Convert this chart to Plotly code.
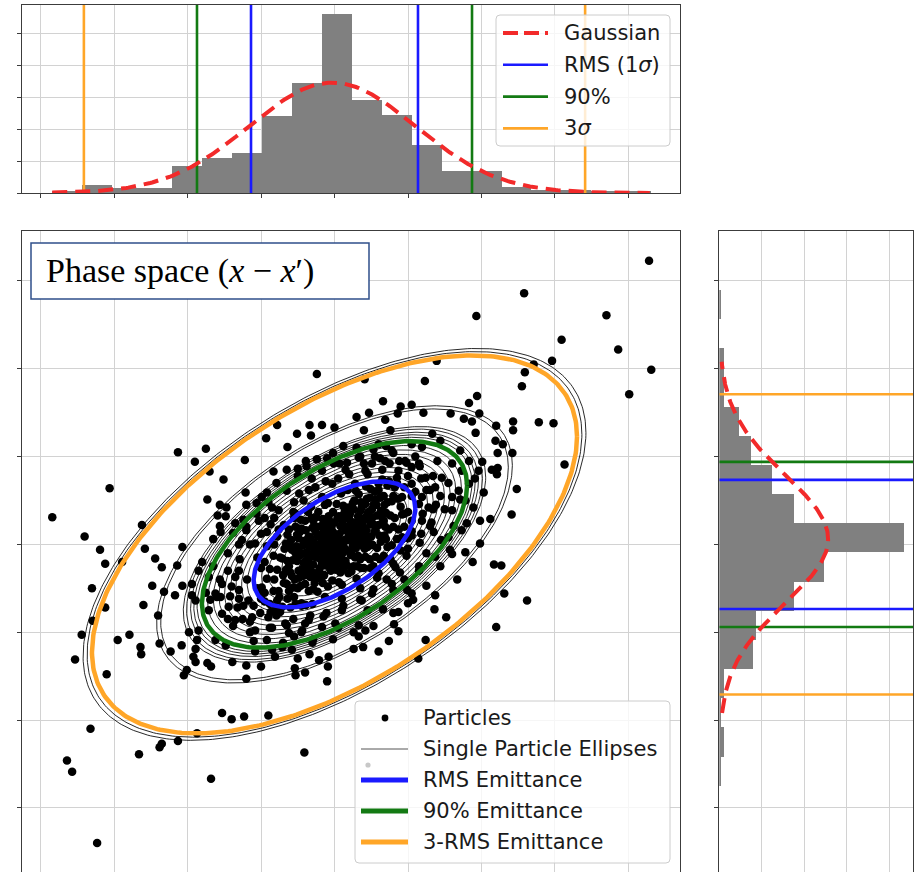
import numpy as np
import plotly.graph_objects as go

W, H = 922, 872

# ---------------- data ----------------
# top histogram (x projection)
top_bin_start = -3.84
top_bin_width = 0.4075
top_counts = [1, 5, 3, 3, 17, 22, 25, 48, 69, 112, 58, 49, 30, 14, 14, 4, 2, 2, 1, 1]

# right histogram (x' projection), from lowest bin to highest
right_bin_start = -3.412
right_bin_width = 0.332
right_counts = [0, 0, 1, 3, 1, 3, 20, 22, 44, 62, 109, 44, 31, 19, 12, 3, 3, 0, 1, 0]

# gaussian fits
top_gauss_amp, top_gauss_mean, top_gauss_sigma = 69, -0.03, 1.13
top_gauss_lo, top_gauss_hi = -3.84, 4.29
right_gauss_amp, right_gauss_mean, right_gauss_sigma = 64, 0.06, 0.73
right_gauss_lo, right_gauss_hi = -1.92, 2.08

# marker lines in the projections
top_rms_x, top_p90_x, top_3sig_x = 1.136, 1.871, 3.41
right_rms_y, right_p90_y, right_3sig_y = 0.735, 0.94, 1.71

# beam ellipse (rms) parameters
sigma_x = 1.10
sigma_xp = 0.7175
corr = 0.57
k_rms, k_90, k_3rms = 1.0, 1.64, 3.0
single_k = [0.45, 0.65, 0.82, 0.90, 1.08, 1.15, 1.22, 1.29, 1.36, 1.43, 1.50, 1.57,
            1.70, 1.74, 1.78, 1.83, 1.87, 2.15, 2.20, 3.06, 3.11]

# particles (x, x')
particles_upper_left = [
    (-0.24, 1.94), (-0.78, 1.36), (-0.34, 1.36), (-0.17, 1.36), (0.00, 1.33), (-0.93, 1.21),
    (-0.51, 1.26), (-0.32, 1.24), (-0.64, 1.11), (-2.13, 1.05), (-1.75, 1.09), (-1.90, 0.94),
    (-1.70, 0.83), (-1.22, 0.96), (-0.83, 0.83), (-0.39, 0.95), (-0.50, 0.86), (-1.51, 0.74),
    (-1.21, 0.59), (-3.06, 0.64), (-1.73, 0.51), (-1.56, 0.45), (-1.47, 0.42), (-1.59, 0.33),
    (-1.48, 0.32), (-3.84, 0.31), (-3.40, 0.09), (-2.62, 0.22), (-3.19, -0.06), (-2.58, -0.05),
    (-2.07, -0.03), (-1.55, 0.14), (-1.20, 0.45), (-1.20, 0.16), (-1.06, 0.35), (-1.03, 0.27),
    (-0.92, 0.14), (-0.65, 0.61), (-0.48, 0.58), (-0.31, 0.75), (-0.17, 0.84), (-0.01, 0.92),
    (0.07, 0.92), (0.12, 1.12), (-0.85, 0.42), (-0.76, 0.39), (-0.42, 0.50), (-0.53, 0.35),
    (-1.35, 0.24), (-1.26, 0.05), (-1.08, 0.01), (-0.03, 0.69), (-0.26, 0.65), (-0.17, 0.54),
    (-0.99, 0.54),
]
particles_upper_right = [
    (4.28, 3.23), (2.58, 2.86), (1.93, 2.60), (3.70, 2.61), (3.09, 2.33), (3.86, 2.22),
    (4.31, 1.99), (4.01, 1.71), (2.96, 2.09), (2.71, 2.05), (2.59, 1.96), (2.55, 1.80),
    (1.39, 2.09), (0.41, 1.88), (1.23, 1.86), (1.94, 1.69), (1.83, 1.61), (0.66, 1.63),
    (1.05, 1.59), (0.90, 1.57), (1.21, 1.50), (1.58, 1.49), (1.76, 1.43), (1.87, 1.40),
    (1.97, 1.49), (1.92, 1.27), (2.43, 1.40), (2.43, 1.30), (2.78, 1.39), (2.98, 1.38),
    (2.20, 1.35), (2.19, 1.18), (2.29, 1.14), (2.22, 1.04), (2.42, 1.04), (3.13, 0.91),
    (2.22, 0.87), (2.14, 0.85), (2.21, 0.80), (2.48, 0.63), (2.03, 0.59), (2.41, 0.34),
    (2.12, 0.29), (1.98, 0.27), (1.98, 0.01), (1.80, 0.24), (1.83, 0.95), (2.01, 0.94),
    (1.96, 0.84), (1.91, 0.75), (0.30, 1.45), (0.47, 1.50), (0.69, 1.42), (0.86, 1.49),
    (0.76, 1.30), (0.40, 1.30), (1.33, 1.26), (1.44, 1.18), (1.19, 1.11), (1.05, 1.14),
    (1.71, 1.07), (1.60, 0.92), (1.73, 0.84), (1.83, 0.69), (1.69, 0.61), (1.60, 0.54),
    (1.78, 0.50), (1.89, 0.42), (1.60, 0.39), (1.73, 0.16), (1.55, 0.08), (1.35, 0.14),
    (1.19, 0.27), (1.28, 0.42), (1.37, 0.65), (1.19, 0.54), (1.46, 0.76), (1.15, 0.92),
    (0.96, 0.95), (0.78, 1.07), (0.60, 1.14), (0.33, 0.99), (0.51, 0.92), (0.69, 0.95),
    (0.87, 0.84), (0.42, 0.84), (0.28, 0.69), (0.60, 0.69), (1.05, 0.69), (1.24, 0.76),
    (0.92, 0.54), (1.15, 0.46), (1.05, 0.27), (0.92, 0.08),
]
particles_lower_left = [
    (-3.12, -0.22), (-2.89, -0.20), (-2.44, -0.16), (-2.35, -0.26), (-2.14, -0.24), (-3.30, -0.50),
    (-2.48, -0.47), (-2.32, -0.54), (-2.17, -0.58), (-2.07, -0.47), (-3.12, -0.72), (-2.60, -0.69),
    (-3.29, -0.87), (-2.40, -0.81), (-3.44, -1.03), (-2.95, -1.09), (-2.79, -1.03), (-2.64, -1.17),
    (-2.63, -1.25), (-3.53, -1.31), (-3.10, -1.48), (-2.38, -1.13), (-2.23, -1.22), (-2.08, -1.15),
    (-2.05, -1.49), (-2.01, -1.43), (-1.89, -1.34), (-1.92, -1.28), (-1.73, -1.35), (-1.68, -1.39),
    (-1.89, -1.19), (-1.98, -1.00), (-1.85, -0.98), (-1.87, -1.09), (-1.62, -1.09), (-1.48, -1.15),
    (-1.39, -1.34), (-1.20, -1.38), (-1.20, -1.53), (-1.00, -1.39), (-1.08, -1.22), (-0.85, -1.20),
    (-0.81, -1.28), (-1.53, -1.92), (-1.40, -1.99), (-1.23, -1.96), (-0.90, -1.95), (-1.87, -2.15),
    (-2.13, -2.24), (-2.35, -2.27), (-2.38, -2.31), (-2.66, -2.39), (-3.32, -2.10), (-3.64, -2.46),
    (-3.57, -2.59), (-1.68, -2.67), (-0.41, -2.37), (-3.23, -3.40), (-0.10, -1.56), (-0.40, -1.46),
    (-0.53, -1.49), (-0.54, -1.41), (-0.50, -1.30), (-0.21, -1.32), (-0.08, -1.28), (-0.09, -1.39),
    (-0.34, -1.25), (-0.58, -1.20), (-0.71, -1.17), (-1.08, -0.98), (-0.92, -1.09), (-1.35, -0.86),
    (-1.53, -0.79), (-1.71, -0.75), (-1.89, -0.64), (-1.94, -0.58), (-1.94, -0.45), (-1.85, -0.30),
    (-1.71, -0.37), (-1.53, -0.45), (-1.35, -0.37), (-1.17, -0.64), (-0.99, -0.49), (-0.81, -0.75),
    (-0.67, -0.90), (-0.44, -0.98), (-0.35, -0.86), (-0.17, -0.94), (0.01, -0.90), (0.10, -0.75),
    (-0.62, -1.01), (-0.90, -0.83), (-1.44, -0.71), (-1.62, -0.56), (-1.30, -0.52), (-1.12, -0.83),
    (-1.45, -0.30), (-1.30, -0.62), (-1.10, -0.70), (-0.95, -0.65), (-0.75, -0.60), (-0.60, -0.72),
    (-0.45, -0.70), (-0.30, -0.68), (-0.85, -0.95), (-0.55, -1.05), (-1.25, -0.85), (-1.55, -0.60),
    (-1.75, -0.55), (-1.80, -0.20),
]
particles_lower_right = [
    (2.17, -0.23), (2.27, -0.24), (2.31, -0.56), (2.62, -0.64), (2.20, -0.94), (1.88, -0.20),
    (1.67, -0.40), (1.37, -0.58), (1.52, -0.83), (1.36, -0.74), (1.24, -1.09), (1.14, -1.30),
    (1.00, -0.67), (0.87, -0.77), (0.87, -0.99), (0.81, -0.91), (0.74, -1.10), (0.66, -0.74),
    (0.60, -1.22), (0.39, -1.17), (0.33, -1.05), (0.42, -0.98), (0.33, -0.92), (0.26, -1.19),
    (1.05, -0.56), (0.99, -0.52), (0.78, -0.45), (0.51, -0.56), (0.37, -0.64), (0.60, -0.33),
    (0.83, -0.26), (1.15, -0.30), (1.37, -0.14), (1.60, -0.11), (1.78, -0.09),
]
particles_ring = [
    (-1.56, 0.21), (-1.65, 0.06), (-1.38, 0.13), (-1.24, 0.28), (-1.06, 0.47), (-0.92, 0.59),
    (-0.79, 0.70), (-0.65, 0.85), (-0.38, 0.89), (-0.24, 0.97), (-0.02, 1.04), (0.17, 0.93),
    (0.35, 1.00), (0.53, 1.08), (0.80, 1.04), (0.98, 0.93), (1.16, 0.89), (1.34, 0.78),
    (1.44, 0.55), (1.34, 0.40), (1.30, 0.21), (1.16, 0.02), (0.98, -0.13), (0.89, -0.32),
    (0.71, -0.40), (0.53, -0.51), (0.35, -0.63), (0.12, -0.70), (-0.11, -0.78), (-0.33, -0.81),
    (-0.56, -0.85), (-0.79, -0.81), (-1.01, -0.78), (-1.24, -0.70), (-1.42, -0.59), (-1.56, -0.40),
    (-1.65, -0.25), (-1.29, -0.17), (-1.19, -0.40), (-1.01, -0.55), (1.71, 0.51), (1.62, 0.21),
    (1.57, -0.06), (1.44, -0.25), (1.25, -0.47), (1.07, -0.63), (0.80, -0.78), (0.53, -0.93),
    (0.26, -1.00), (-0.02, -1.08), (-0.29, -1.08), (-1.15, -1.00), (-1.38, -0.93), (-1.69, -0.63),
    (0.45, 0.80), (0.65, 0.85), (0.85, 0.70), (1.00, 0.78), (1.10, 0.60), (1.25, 0.62),
    (1.20, 0.35), (1.05, 0.10), (0.95, 0.35), (0.75, 0.92), (0.20, 0.80), (0.05, 0.75),
    (1.38, 0.45), (1.30, 0.62), (1.18, 0.75), (1.05, 0.88), (0.88, 0.95), (0.62, 0.98),
    (0.40, 0.92), (0.15, 0.85), (-0.12, 0.72), (-0.35, 0.62), (-0.55, 0.48), (-0.82, 0.30),
    (-1.00, 0.12), (-1.15, 0.00), (-1.30, -0.30), (-1.40, -0.48), (-1.32, -0.72), (-1.15, -0.88),
    (-0.88, -0.95), (-0.65, -0.92), (-0.40, -0.90), (-0.15, -0.82), (0.10, -0.62), (0.35, -0.50),
    (0.58, -0.38), (0.80, -0.22), (1.00, -0.05), (1.18, 0.12), (1.32, 0.25), (1.50, 0.40),
    (1.55, 0.70), (1.40, 0.95), (1.10, 1.00), (0.70, 1.12), (0.30, 1.10), (-0.10, 0.98),
    (-0.50, 0.78), (-0.90, 0.48), (-1.20, 0.20), (-1.45, -0.10), (-1.60, -0.60), (-1.45, -0.85),
    (-1.10, -1.10), (-0.70, -1.12), (-0.30, -1.12), (0.05, -0.95), (0.45, -0.75), (0.80, -0.52),
    (1.15, -0.25), (1.45, 0.05), (1.25, -0.10), (0.95, -0.40), (-0.95, 0.30), (-1.30, 0.00),
    (-0.45, -1.00), (0.55, 1.00),
]
particles_core = [
    (-0.95, -0.55), (-0.95, -0.20), (-0.88, -0.28), (-0.88, -0.68), (-0.82, 0.00), (-0.82, -0.40),
    (-0.76, 0.17), (-0.76, -0.53), (-0.71, -0.16), (-0.71, -0.71), (-0.66, 0.01), (-0.66, -0.29),
    (-0.62, -0.53), (-0.62, 0.17), (-0.58, -0.06), (-0.58, -0.36), (-0.55, 0.30), (-0.55, -0.60),
    (-0.51, -0.19), (-0.51, 0.11), (-0.48, -0.38), (-0.48, -0.08), (-0.45, 0.18), (-0.45, -0.67),
    (-0.42, -0.21), (-0.42, 0.04), (-0.40, 0.27), (-0.40, -0.45), (-0.37, -0.09), (-0.37, -0.26),
    (-0.35, 0.09), (-0.35, -0.53), (-0.32, 0.43), (-0.32, -0.30), (-0.30, -0.11), (-0.30, 0.19),
    (-0.28, -0.35), (-0.28, 0.02), (-0.25, 0.31), (-0.25, -0.15), (-0.23, -0.54), (-0.23, 0.09),
    (-0.20, -0.02), (-0.20, -0.27), (-0.18, 0.21), (-0.18, -0.39), (-0.15, 0.04), (-0.15, -0.14),
    (-0.13, 0.45), (-0.13, -0.60), (-0.10, 0.16), (-0.10, -0.19), (-0.08, -0.05), (-0.08, 0.32),
    (-0.05, 0.10), (-0.05, -0.30), (-0.03, -0.41), (-0.03, 0.01), (0.00, 0.25), (0.00, -0.10),
    (0.00, 0.05), (0.03, -0.19), (0.03, 0.46), (0.05, 0.10), (0.05, -0.03), (0.08, -0.32),
    (0.08, 0.21), (0.10, 0.04), (0.10, -0.46), (0.13, 0.35), (0.13, -0.07), (0.15, 0.16),
    (0.15, -0.19), (0.18, 0.62), (0.18, 0.05), (0.20, -0.08), (0.20, 0.29), (0.23, 0.17),
    (0.23, -0.31), (0.25, 0.47), (0.25, -0.01), (0.28, -0.15), (0.28, 0.25), (0.30, 0.13),
    (0.30, -0.39), (0.33, 0.57), (0.33, 0.07), (0.35, -0.17), (0.35, 0.38), (0.38, 0.24),
    (0.38, -0.01), (0.40, -0.27), (0.40, 0.47), (0.43, 0.16), (0.43, 0.66), (0.45, -0.03),
    (0.45, 0.35), (0.48, 0.53), (0.48, -0.17), (0.50, 0.24), (0.50, 0.09), (0.53, 0.45),
    (0.53, -0.25), (0.55, 0.15), (0.55, 0.60), (0.58, 0.33), (0.58, -0.04), (0.62, -0.17),
    (0.62, 0.53), (0.65, 0.24), (0.65, 0.74), (0.68, 0.10), (0.68, 0.45), (0.72, 0.67),
    (0.72, -0.03), (0.76, 0.33), (0.76, -0.17), (0.80, 0.55), (0.80, 0.20), (0.85, 0.06),
    (0.85, 0.76), (0.90, 0.43), (0.90, -0.07), (0.95, 0.65), (0.95, 0.20), (1.00, 0.37),
    (1.00, 0.07), (-1.00, -0.27), (-1.00, -0.62), (1.05, 0.55), (1.05, 0.15), (-1.05, -0.15),
    (-1.05, -0.50),
]
particles_core_dense = [
    (-0.92, -0.02), (-0.92, -0.39), (-0.87, 0.23), (-0.87, -0.77), (-0.83, -0.13), (-0.83, -0.53),
    (-0.78, 0.09), (-0.78, -0.29), (-0.78, -0.64), (-0.74, -0.15), (-0.74, -0.77), (-0.69, 0.22),
    (-0.69, -0.44), (-0.64, -0.19), (-0.64, -0.62), (-0.64, 0.11), (-0.60, -0.02), (-0.60, -0.32),
    (-0.56, 0.37), (-0.56, -0.49), (-0.53, -0.10), (-0.53, -0.68), (-0.53, 0.20), (-0.49, 0.07),
    (-0.49, -0.30), (-0.46, -0.47), (-0.46, -0.12), (-0.46, 0.28), (-0.43, -0.01), (-0.43, -0.36),
    (-0.39, 0.16), (-0.39, -0.19), (-0.39, -0.69), (-0.36, 0.37), (-0.36, -0.01), (-0.33, -0.37),
    (-0.33, 0.08), (-0.33, -0.14), (-0.29, 0.27), (-0.29, -0.23), (-0.29, -0.51), (-0.26, -0.02),
    (-0.26, 0.15), (-0.22, -0.38), (-0.22, 0.37), (-0.22, -0.08), (-0.19, 0.08), (-0.19, -0.17),
    (-0.16, 0.29), (-0.16, -0.44), (-0.16, -0.06), (-0.12, 0.18), (-0.12, -0.24), (-0.12, 0.01),
    (-0.09, -0.48), (-0.09, 0.09), (-0.09, 0.47), (-0.06, -0.12), (-0.06, 0.26), (-0.06, -0.27),
    (-0.02, 0.14), (-0.02, -0.06), (-0.02, 0.37), (0.02, -0.29), (0.02, 0.11), (0.02, -0.11),
    (0.06, 0.32), (0.06, -0.43), (0.06, 0.02), (0.09, 0.21), (0.09, -0.15), (0.09, 0.58),
    (0.12, -0.01), (0.12, 0.44), (0.12, -0.28), (0.16, 0.16), (0.16, -0.06), (0.16, 0.31),
    (0.19, -0.33), (0.19, 0.09), (0.19, 0.42), (0.22, 0.26), (0.22, -0.12), (0.26, 0.05),
    (0.26, 0.40), (0.26, -0.25), (0.29, 0.23), (0.29, -0.04), (0.29, 0.61), (0.32, -0.13),
    (0.32, 0.32), (0.36, 0.18), (0.36, -0.27), (0.36, 0.48), (0.39, 0.29), (0.39, 0.04),
    (0.42, -0.14), (0.42, 0.46), (0.42, 0.18), (0.46, 0.37), (0.46, 0.02), (0.49, -0.27),
    (0.49, 0.23), (0.49, 0.63), (0.52, 0.31), (0.52, -0.01), (0.56, 0.51), (0.56, 0.16),
    (0.56, -0.14), (0.60, 0.22), (0.60, 0.62), (0.63, 0.03), (0.63, 0.38), (0.67, 0.55),
    (0.67, -0.13), (0.67, 0.27), (0.70, 0.36), (0.70, 0.06), (0.74, 0.72), (0.74, 0.17),
    (0.78, 0.49), (0.78, -0.01), (0.82, 0.30), (0.82, 0.65), (0.87, 0.17), (0.87, 0.52),
    (0.92, 0.34), (0.92, 0.06),
]
particles_core_center = [
    (-0.70, -0.35), (-0.68, -0.05), (-0.65, -0.45), (-0.62, -0.25), (-0.59, 0.05), (-0.57, -0.18),
    (-0.54, -0.40), (-0.52, -0.02), (-0.50, -0.50), (-0.47, 0.14), (-0.44, -0.28), (-0.41, -0.10),
    (-0.38, 0.05), (-0.38, -0.35), (-0.35, -0.20), (-0.31, -0.02), (-0.31, 0.30), (-0.27, -0.44),
    (-0.27, -0.10), (-0.24, 0.20), (-0.21, -0.30), (-0.21, 0.00), (-0.17, 0.12), (-0.17, -0.22),
    (-0.14, -0.35), (-0.14, 0.25), (-0.11, -0.08), (-0.07, 0.05), (-0.07, -0.20), (-0.04, 0.20),
    (-0.04, -0.15), (-0.01, -0.25), (0.01, 0.00), (0.04, 0.30), (0.04, -0.08), (0.07, 0.12),
    (0.07, -0.22), (0.11, 0.26), (0.11, -0.10), (0.14, 0.05), (0.14, 0.40), (0.17, -0.24),
    (0.17, 0.20), (0.21, 0.10), (0.21, 0.35), (0.24, -0.12), (0.24, 0.22), (0.27, 0.50),
    (0.27, 0.02), (0.31, 0.18), (0.31, -0.25), (0.34, 0.30), (0.34, 0.00), (0.37, 0.42),
    (0.37, 0.12), (0.41, -0.05), (0.41, 0.30), (0.44, 0.52), (0.44, 0.10), (0.47, 0.28),
    (0.51, 0.40), (0.51, 0.00), (0.54, 0.22), (0.57, 0.45), (0.61, 0.10), (0.64, 0.32),
    (0.69, 0.20), (0.72, 0.48),
]

all_particles = (particles_upper_left + particles_upper_right + particles_lower_left
                 + particles_lower_right + particles_ring + particles_core
                 + particles_core_dense + particles_core_center)
part_x = [p[0] for p in all_particles]
part_y = [p[1] for p in all_particles]

# ---------------- colours ----------------
C_BLUE = "#1a1aff"
C_GREEN = "#137a13"
C_ORANGE = "#ffa628"
C_RED = "#f22a2a"
C_GRAY = "#808080"

# ---------------- axis ranges ----------------
X_MAIN = [-4.252, 4.701]
Y_MAIN = [-3.731, 3.569]
Y_TOP = [0, 117.5]
X_RIGHT = [0, 113.9]


def ellipse(k, n=361):
    t = np.linspace(0, 2 * np.pi, n)
    ex = k * sigma_x * np.cos(t)
    ey = k * sigma_xp * (corr * np.cos(t) + np.sqrt(1 - corr ** 2) * np.sin(t))
    return ex, ey


def gauss(a, m, s, v):
    v = np.asarray(v)
    return a * np.exp(-0.5 * ((v - m) / s) ** 2)


fig = go.Figure()

# ---------- top histogram ----------
top_centers = [top_bin_start + top_bin_width * (i + 0.5) for i in range(len(top_counts))]
fig.add_trace(go.Bar(x=top_centers, y=top_counts, width=top_bin_width,
                     marker=dict(color=C_GRAY, line=dict(width=0)),
                     xaxis="x", yaxis="y", name="hist x"))
for val, col in [(top_3sig_x, C_ORANGE), (top_p90_x, C_GREEN), (top_rms_x, C_BLUE)]:
    for s in (-1, 1):
        fig.add_trace(go.Scatter(x=[s * val, s * val], y=[Y_TOP[0], Y_TOP[1] * 1.2],
                                 mode="lines", line=dict(color=col, width=2.6),
                                 xaxis="x", yaxis="y", hoverinfo="skip"))
gx = np.linspace(top_gauss_lo, top_gauss_hi, 300)
fig.add_trace(go.Scatter(x=gx, y=gauss(top_gauss_amp, top_gauss_mean, top_gauss_sigma, gx),
                         mode="lines", line=dict(color=C_RED, width=4, dash="15px,8px"),
                         xaxis="x", yaxis="y", name="Gaussian"))

# ---------- main phase space ----------
for k in single_k:
    ex, ey = ellipse(k)
    fig.add_trace(go.Scatter(x=ex, y=ey, mode="lines", line=dict(color="#111111", width=0.9),
                             xaxis="x2", yaxis="y2", hoverinfo="skip"))
fig.add_trace(go.Scatter(x=part_x, y=part_y, mode="markers",
                         marker=dict(color="black", size=8.5, line=dict(width=0)),
                         xaxis="x2", yaxis="y2", name="Particles"))
for k, col in [(k_rms, C_BLUE), (k_90, C_GREEN), (k_3rms, C_ORANGE)]:
    ex, ey = ellipse(k)
    fig.add_trace(go.Scatter(x=ex, y=ey, mode="lines", line=dict(color=col, width=4.5),
                             xaxis="x2", yaxis="y2"))

# ---------- right histogram ----------
right_centers = [right_bin_start + right_bin_width * (i + 0.5) for i in range(len(right_counts))]
fig.add_trace(go.Bar(y=right_centers, x=right_counts, width=right_bin_width, orientation="h",
                     marker=dict(color=C_GRAY, line=dict(width=0)),
                     xaxis="x3", yaxis="y3", name="hist x'"))
for val, col in [(right_3sig_y, C_ORANGE), (right_p90_y, C_GREEN), (right_rms_y, C_BLUE)]:
    for s in (-1, 1):
        fig.add_trace(go.Scatter(y=[s * val, s * val], x=[X_RIGHT[0], X_RIGHT[1] * 1.2],
                                 mode="lines", line=dict(color=col, width=2.6),
                                 xaxis="x3", yaxis="y3", hoverinfo="skip"))
gy = np.linspace(right_gauss_lo, right_gauss_hi, 300)
fig.add_trace(go.Scatter(y=gy, x=gauss(right_gauss_amp, right_gauss_mean, right_gauss_sigma, gy),
                         mode="lines", line=dict(color=C_RED, width=4, dash="15px,8px"),
                         xaxis="x3", yaxis="y3"))


# ---------------- layout ----------------
def PX(p):
    return p / W


def PY(p):
    return 1 - p / H


axis_style = dict(showgrid=True, gridcolor="#d2d2d2", gridwidth=1, zeroline=False,
                  showline=True, linecolor="#3c3c3c", linewidth=1, mirror=True,
                  ticks="outside", ticklen=4, tickwidth=1, tickcolor="#3c3c3c",
                  showticklabels=False, automargin=False)

fig.update_layout(
    width=W, height=H, margin=dict(l=0, r=0, t=0, b=0, pad=0, autoexpand=False),
    paper_bgcolor="white", plot_bgcolor="white", showlegend=False, bargap=0,
    xaxis=dict(axis_style, domain=[PX(22), PX(680)], range=X_MAIN, tick0=0, dtick=1, anchor="y"),
    yaxis=dict(axis_style, domain=[PY(193), PY(5)], range=Y_TOP, tick0=0, dtick=20, anchor="x"),
    xaxis2=dict(axis_style, domain=[PX(22), PX(680)], range=X_MAIN, tick0=0, dtick=1, anchor="y2"),
    yaxis2=dict(axis_style, domain=[0, PY(231)], range=Y_MAIN, tick0=0, dtick=1, anchor="x2"),
    xaxis3=dict(axis_style, domain=[PX(719.3), PX(913)], range=X_RIGHT, tick0=0, dtick=25, anchor="y3"),
    yaxis3=dict(axis_style, domain=[0, PY(231)], range=Y_MAIN, tick0=0, dtick=1, anchor="x3"),
)

shapes = []
annotations = []


def rrect(x0, y0, x1, y1, r=4):
    pts = [
        f"M {PX(x0 + r)},{PY(y0)}", f"L {PX(x1 - r)},{PY(y0)}",
        f"Q {PX(x1)},{PY(y0)} {PX(x1)},{PY(y0 + r)}", f"L {PX(x1)},{PY(y1 - r)}",
        f"Q {PX(x1)},{PY(y1)} {PX(x1 - r)},{PY(y1)}", f"L {PX(x0 + r)},{PY(y1)}",
        f"Q {PX(x0)},{PY(y1)} {PX(x0)},{PY(y1 - r)}", f"L {PX(x0)},{PY(y0 + r)}",
        f"Q {PX(x0)},{PY(y0)} {PX(x0 + r)},{PY(y0)}", "Z",
    ]
    return dict(type="path", path=" ".join(pts), xref="paper", yref="paper",
                fillcolor="rgba(255,255,255,0.8)", line=dict(color="#cccccc", width=1),
                layer="above")


def hline(x0, x1, y, color, width, dash="solid"):
    return dict(type="line", xref="paper", yref="paper", x0=PX(x0), x1=PX(x1),
                y0=PY(y), y1=PY(y), line=dict(color=color, width=width, dash=dash), layer="above")


def dot(cx, cy, r, color):
    return dict(type="circle", xref="paper", yref="paper", x0=PX(cx - r), x1=PX(cx + r),
                y0=PY(cy + r), y1=PY(cy - r), fillcolor=color, line=dict(width=0), layer="above")


def label(x, y, text, size=21):
    return dict(x=PX(x), y=PY(y), xref="paper", yref="paper", text=text, showarrow=False,
                xanchor="left", yanchor="middle",
                font=dict(family="DejaVu Sans", size=size, color="#1a1a1a"))


# top legend
shapes.append(rrect(496, 15, 670, 146))
top_rows = [("Gaussian", C_RED, "dash"), ("RMS (1<i>σ</i>)", C_BLUE, "solid"),
            ("90%", C_GREEN, "solid"), ("3<i>σ</i>", C_ORANGE, "solid")]
for i, (txt, col, d) in enumerate(top_rows):
    y = 33 + i * 31.8
    if d == "dash":
        shapes.append(hline(503, 548, y, col, 4, "15px,6px"))
    else:
        shapes.append(hline(503, 548, y, col, 2.6))
    annotations.append(label(562, y, txt))

# main legend
shapes.append(rrect(355, 701, 670, 863))
shapes.append(dot(385, 718, 3.4, "black"))
shapes.append(hline(361, 408, 749, "#555555", 1))
shapes.append(dot(368, 765, 2.6, "#c8c8c8"))
shapes.append(hline(361, 408, 780, C_BLUE, 5))
shapes.append(hline(361, 408, 811, C_GREEN, 5))
shapes.append(hline(361, 408, 842, C_ORANGE, 5))
for txt, y in [("Particles", 718), ("Single Particle Ellipses", 749), ("RMS Emittance", 780),
               ("90% Emittance", 811), ("3-RMS Emittance", 842)]:
    annotations.append(label(421, y, txt))

# title box
shapes.append(dict(type="rect", xref="paper", yref="paper", x0=PX(31), x1=PX(369),
                   y0=PY(299), y1=PY(243), fillcolor="white",
                   line=dict(color="#2f4f8a", width=1.5), layer="above"))
annotations.append(dict(x=PX(44), y=PY(271), xref="paper", yref="paper",
                        text="Phase space (<i>x</i> − <i>x</i>′)", showarrow=False,
                        xanchor="left", yanchor="middle",
                        font=dict(family="Liberation Serif", size=34, color="black")))

fig.update_layout(shapes=shapes, annotations=annotations)
fig.write_html("out.html")
